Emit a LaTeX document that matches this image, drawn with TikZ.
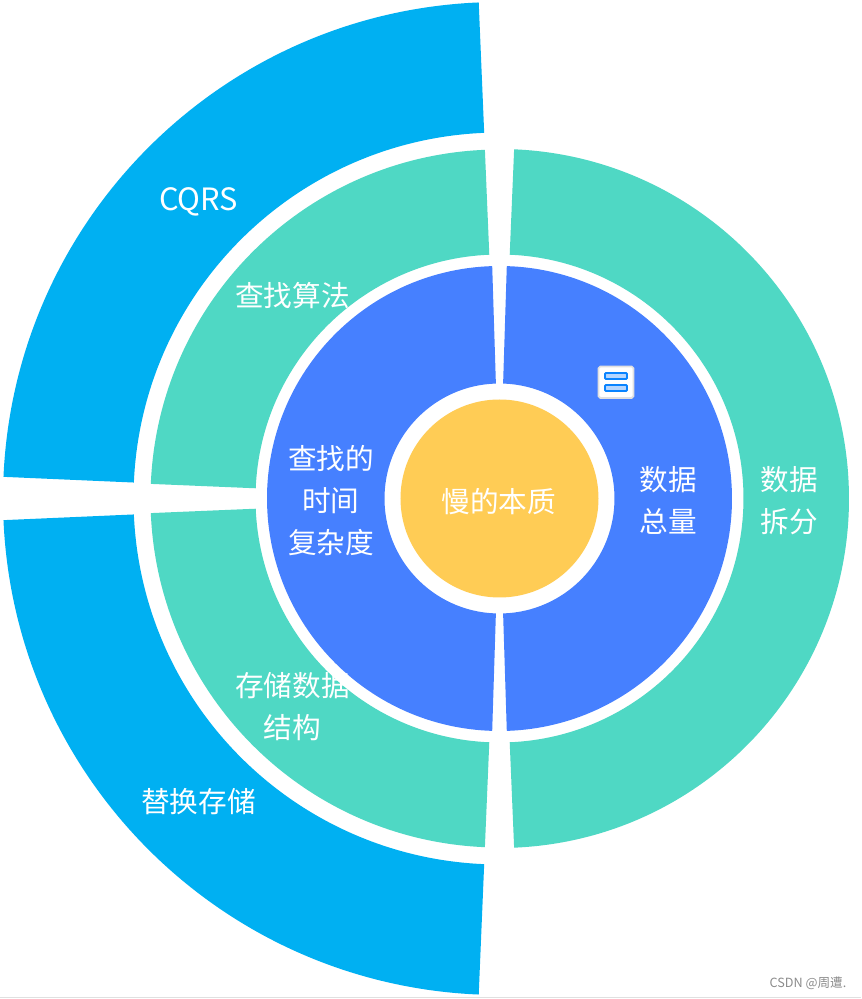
\documentclass[tikz,border=0pt]{standalone}
\usepackage{fontspec}
\setmainfont{Noto Sans CJK SC}
\usepackage{tikz}
\definecolor{kern}{HTML}{FFCC55}
\definecolor{innen}{HTML}{4680FF}
\definecolor{mitte}{HTML}{4FD8C4}
\definecolor{aussen}{HTML}{00B0F2}
\definecolor{markrand}{HTML}{0A84FF}
\definecolor{markfill}{HTML}{B5D6FF}
\tikzset{
  lbl/.style={text=white, align=center, inner sep=0pt, font=\fontsize{16.3}{23.8}\selectfont},
  markbar/.style={draw=markrand, line width=1.1pt, rounded corners=0.6pt, fill=markfill}
}
% #1 colour, #2/#3 start/end angle, #4/#5 inner/outer radius
\newcommand{\ringsector}[5]{
  \fill[#1] (#2:#4) -- (#2:#5) arc (#2:#3:#5) -- (#3:#4) arc (#3:#2:#4) -- cycle;
}

\begin{document}
\begin{tikzpicture}[scale=0.02]
  \useasboundingbox (-499.5,-500.5) rectangle (361.5,498.5);
  \fill[white] (-499.5,-500.5) rectangle (361.5,498.5);
  \draw[black!12, line width=0.5pt] (-499.5,-499) -- (361.5,-499);

  % Aussen
  \ringsector{aussen}{92.4}{177.5}{366}{496.5}
  \ringsector{aussen}{182.5}{267.6}{366}{496.5}

  % Mitte
  \ringsector{mitte}{92.4}{177.6}{244}{349}
  \ringsector{mitte}{182.4}{267.6}{244}{349}
  \ringsector{mitte}{-87.6}{87.6}{244}{349.5}

  % Innen
  \ringsector{innen}{91.8}{268.2}{115}{232.5}
  \ringsector{innen}{-88.2}{88.2}{115}{232.5}

  % Kern
  \fill[kern] (0,0) circle (99);
  \node[lbl] (wesen) at (-0.7,-3) {慢的本质};

  \node[lbl] (menge) at (169,-2) {数据\\总量};
  \node[lbl] (teilung) at (290,-2) {数据\\拆分};
  \node[lbl] (zeit) at (-168.5,-2) {查找的\\时间\\复杂度};
  \node[lbl] (suche) at (-207,203) {查找算法};
  \node[lbl] (struktur) at (-207,-208) {存储数据\\结构};
  \node[lbl, font=\fontsize{17.5}{23.8}\selectfont] (cqrs) at (-301,296.5) {CQRS};
  \node[lbl] (ersatz) at (-301,-303) {替换存储};

  % Symbol
  \draw[black!12, fill=white, rounded corners=1pt, line width=1pt] (99,132) rectangle (134,100.5);
  \draw[markbar] (105.5,125.5) rectangle (127.5,119.5);
  \draw[markbar] (105.5,113.5) rectangle (127.5,107.5);

  \node[text=black!45, inner sep=0pt, font=\fontsize{7.2}{8}\selectfont] (quelle) at (308.5,-485) {CSDN @周遭.};
\end{tikzpicture}
\end{document}
